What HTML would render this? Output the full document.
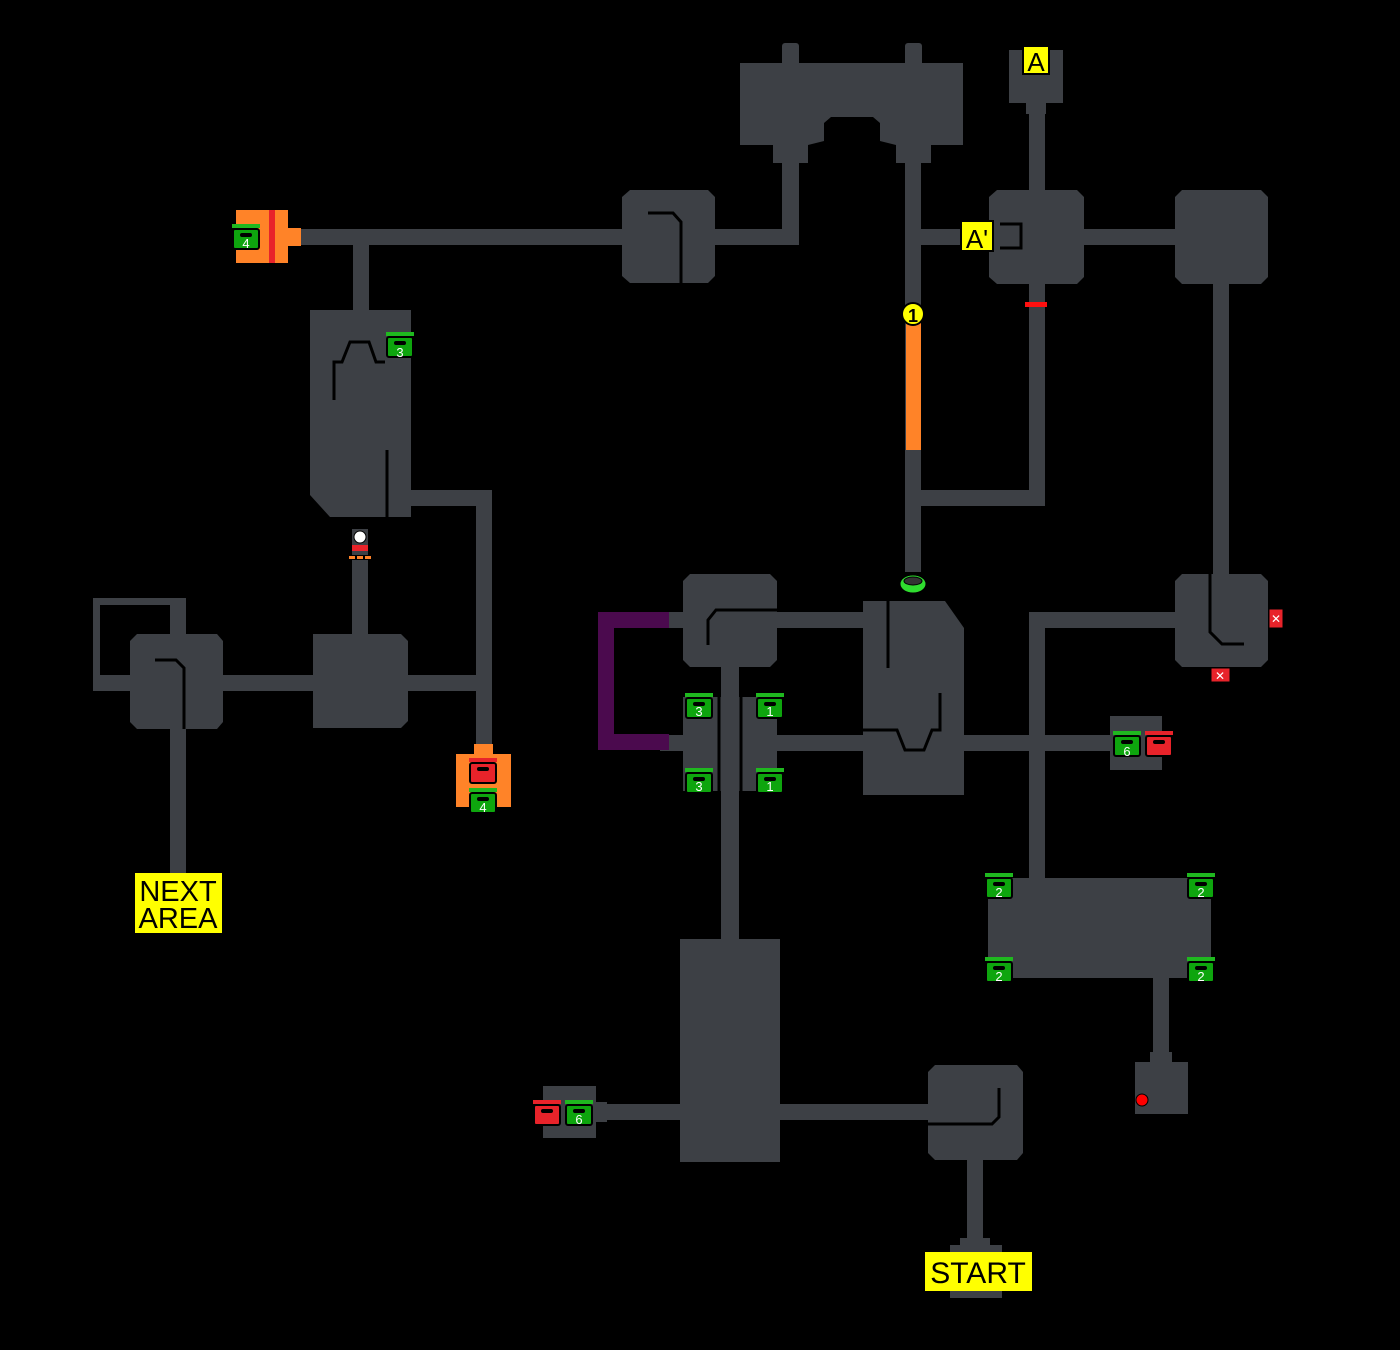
<!DOCTYPE html>
<html><head><meta charset="utf-8"><style>
html,body{margin:0;padding:0;background:#000;}
svg{display:block;}
text{font-family:"Liberation Sans",sans-serif;}
</style></head><body>
<svg width="1400" height="1350" viewBox="0 0 1400 1350" xmlns="http://www.w3.org/2000/svg">
<defs>
<g id="cg">
<rect x="0" y="0" width="28" height="4" fill="#1fb81f"/>
<rect x="1" y="5" width="26" height="20" rx="2" fill="#0ea50e" stroke="#000" stroke-width="2"/>
<rect x="8" y="9" width="12" height="4" rx="2" fill="#000"/>
</g>
<g id="cr">
<rect x="0" y="0" width="28" height="4" fill="#e8232a"/>
<rect x="1" y="5" width="26" height="20" rx="2" fill="#e8232a" stroke="#000" stroke-width="2"/>
<rect x="8" y="9" width="12" height="4" rx="2" fill="#000"/>
</g>
</defs>
<rect width="1400" height="1350" fill="#000"/>
<g fill="#3d4045">
<!-- top big room -->
<rect x="782" y="43" width="17" height="25" rx="3"/>
<rect x="905" y="43" width="17" height="25" rx="3"/>
<polygon points="740,63 963,63 963,145 931,145 931,163 896,163 896,145 880,141 880,123 873,117 831,117 824,123 824,141 808,145 808,163 773,163 773,145 740,145"/>
<rect x="782" y="160" width="17" height="85"/>
<rect x="905" y="160" width="16" height="412"/>
<!-- top-left corridors -->
<rect x="300" y="229" width="330" height="16"/>
<rect x="710" y="229" width="89" height="16"/>
<path d="M630,190 h78 l7,7 v79 l-7,7 h-78 l-8,-7 v-79 z"/>
<rect x="353" y="240" width="16" height="75"/>
<polygon points="310,310 411,310 411,517 330,517 310,495"/>
<rect x="405" y="490" width="87" height="16"/>
<rect x="476" y="490" width="16" height="260"/>
<rect x="352" y="560" width="16" height="80"/>
<rect x="352" y="530" width="16" height="25"/>
<path d="M313,634 h88 l7,7 v80 l-7,7 h-88 z"/>
<rect x="220" y="675" width="95" height="16"/>
<rect x="405" y="675" width="80" height="16"/>
<path d="M137,634 h80 l6,7 v81 l-6,7 h-80 l-7,-7 v-81 z"/>
<rect x="93" y="598" width="93" height="7"/>
<rect x="93" y="598" width="7" height="93"/>
<rect x="93" y="675" width="40" height="16"/>
<rect x="170" y="598" width="16" height="40"/>
<rect x="170" y="725" width="16" height="148"/>
<!-- A area -->
<rect x="1009" y="50" width="54" height="53"/>
<rect x="1026" y="100" width="20" height="14"/>
<rect x="1029" y="110" width="16" height="395"/>
<path d="M997,190 h80 l7,7 v80 l-7,7 h-80 l-8,-7 v-80 z"/>
<rect x="921" y="229" width="75" height="16"/>
<rect x="1080" y="229" width="100" height="16"/>
<path d="M1182,190 h79 l7,7 v80 l-7,7 h-79 l-7,-7 v-80 z"/>
<rect x="1213" y="280" width="16" height="300"/>
<rect x="913" y="490" width="132" height="16"/>
<!-- center -->
<path d="M690,574 h80 l7,7 v79 l-7,7 h-80 l-7,-7 v-79 z"/>
<rect x="660" y="612" width="30" height="16"/>
<rect x="770" y="612" width="100" height="16"/>
<polygon points="863,601 945,601 964,628 964,795 863,795"/>
<rect x="683" y="697" width="94" height="94"/>
<rect x="660" y="735" width="210" height="16"/>
<rect x="960" y="735" width="155" height="16"/>
<rect x="721" y="660" width="18" height="285"/>
<rect x="680" y="939" width="100" height="223"/>
<rect x="596" y="1104" width="90" height="16"/>
<rect x="775" y="1104" width="160" height="16"/>
<rect x="543" y="1086" width="53" height="52"/>
<rect x="594" y="1102" width="13" height="20"/>
<path d="M935,1065 h82 l6,7 v81 l-6,7 h-82 l-7,-7 v-81 z"/>
<rect x="967" y="1155" width="16" height="95"/>
<rect x="960" y="1238" width="30" height="12"/>
<rect x="950" y="1245" width="52" height="8"/>
<rect x="950" y="1290" width="52" height="8"/>
<!-- right -->
<rect x="1029" y="612" width="16" height="270"/>
<rect x="1029" y="612" width="150" height="16"/>
<path d="M1182,574 h79 l7,7 v79 l-7,7 h-79 l-7,-7 v-79 z"/>
<rect x="1110" y="716" width="52" height="54"/>
<rect x="988" y="878" width="223" height="100"/>
<rect x="1153" y="975" width="16" height="80"/>
<rect x="1150" y="1052" width="22" height="12"/>
<rect x="1135" y="1062" width="53" height="52"/>
</g>
<!-- inner black lines -->
<g stroke="#000" stroke-width="3" fill="none">
<polyline points="648,213 673,213 681,222 681,283"/>
<polyline points="334,400 334,362 342,362 350,342 369,342 376,362 385,362"/>
<line x1="387" y1="450" x2="387" y2="517"/>
<polyline points="155,660 176,660 184,668 184,729"/>
<polyline points="708,645 708,620 716,610 777,610"/>
<line x1="888" y1="601" x2="888" y2="668"/>
<polyline points="863,730 897,730 905,750 924,750 932,730 940,730 940,693"/>
<line x1="719" y1="697" x2="719" y2="791"/>
<line x1="741" y1="697" x2="741" y2="791"/>
<polyline points="1210,574 1210,632 1222,644 1244,644"/>
<polyline points="928,1124 992,1124 999,1117 999,1088"/>
<polyline points="1000,224 1021,224 1021,248 1000,248"/>
</g>
<!-- purple bracket -->
<path d="M598,612 h71 v16 h-55 v106 h55 v16 h-71 z" fill="#4b0a4e"/>
<!-- orange bar / 1 marker -->
<rect x="906" y="322" width="15" height="128" fill="#ff8328"/>
<circle cx="913" cy="314" r="11" fill="#ffff00" stroke="#000" stroke-width="2"/>
<text x="913" y="322" font-size="18" font-weight="bold" text-anchor="middle" fill="#000">1</text>
<!-- green ring -->
<ellipse cx="913" cy="584" rx="13" ry="9" fill="#2fdc2f" stroke="#000" stroke-width="1"/>
<ellipse cx="913" cy="581" rx="9" ry="4" fill="#333" stroke="#000"/>
<!-- red bar -->
<rect x="1025" y="302" width="22" height="5" fill="#ff1010"/>
<!-- orange room top left -->
<rect x="236" y="210" width="52" height="53" fill="#ff8328"/>
<rect x="287" y="228" width="14" height="18" fill="#ff8328"/>
<rect x="269" y="210" width="6" height="53" fill="#e8232a"/>
<use href="#cg" x="232" y="224"/><text x="246" y="248" font-size="13" fill="#fff" text-anchor="middle">4</text>
<use href="#cg" x="386" y="332"/><text x="400" y="357" font-size="13" fill="#fff" text-anchor="middle">3</text>
<!-- white ball switch -->
<rect x="352" y="529" width="16" height="26" fill="#3d4045"/>
<circle cx="360" cy="537" r="6" fill="#fff" stroke="#000"/>
<rect x="352" y="545" width="16" height="6" fill="#e8232a"/>
<rect x="349" y="556" width="6" height="3" fill="#ff8328"/><rect x="357" y="556" width="6" height="3" fill="#ff8328"/><rect x="365" y="556" width="6" height="3" fill="#ff8328"/>
<!-- orange bottom room -->
<rect x="474" y="744" width="19" height="12" fill="#ff8328"/>
<rect x="456" y="754" width="55" height="53" fill="#ff8328"/>
<use href="#cr" x="469" y="758"/>
<use href="#cg" x="469" y="788"/><text x="483" y="812" font-size="13" fill="#fff" text-anchor="middle">4</text>
<!-- center chests -->
<use href="#cg" x="685" y="693"/><text x="699" y="716" font-size="13" fill="#fff" text-anchor="middle">3</text>
<use href="#cg" x="756" y="693"/><text x="770" y="716" font-size="13" fill="#fff" text-anchor="middle">1</text>
<use href="#cg" x="685" y="768"/><text x="699" y="791" font-size="13" fill="#fff" text-anchor="middle">3</text>
<use href="#cg" x="756" y="768"/><text x="770" y="791" font-size="13" fill="#fff" text-anchor="middle">1</text>
<use href="#cg" x="1113" y="731"/><text x="1127" y="756" font-size="13" fill="#fff" text-anchor="middle">6</text>
<use href="#cr" x="1145" y="731"/>
<use href="#cr" x="533" y="1100"/>
<use href="#cg" x="565" y="1100"/><text x="579" y="1124" font-size="13" fill="#fff" text-anchor="middle">6</text>
<use href="#cg" x="985" y="873"/><text x="999" y="897" font-size="13" fill="#fff" text-anchor="middle">2</text>
<use href="#cg" x="1187" y="873"/><text x="1201" y="897" font-size="13" fill="#fff" text-anchor="middle">2</text>
<use href="#cg" x="985" y="957"/><text x="999" y="981" font-size="13" fill="#fff" text-anchor="middle">2</text>
<use href="#cg" x="1187" y="957"/><text x="1201" y="981" font-size="13" fill="#fff" text-anchor="middle">2</text>
<!-- red x blocks -->
<rect x="1269" y="609" width="14" height="19" fill="#e8232a" stroke="#000"/>
<text x="1276" y="623" font-size="12" fill="#fff" text-anchor="middle">✕</text>
<rect x="1211" y="668" width="19" height="14" fill="#e8232a" stroke="#000"/>
<text x="1220" y="680" font-size="12" fill="#fff" text-anchor="middle">✕</text>
<circle cx="1142" cy="1100" r="6" fill="#ff0000" stroke="#000"/>
<!-- labels -->
<rect x="1023" y="46" width="26" height="28" fill="#ffff00" stroke="#000" stroke-width="2"/>
<text x="1036" y="71" font-size="26" text-anchor="middle" fill="#000">A</text>
<rect x="961" y="221" width="32" height="30" fill="#ffff00" stroke="#000" stroke-width="2"/>
<text x="977" y="248" font-size="26" text-anchor="middle" fill="#000">A'</text>
<rect x="135" y="873" width="87" height="60" fill="#ffff00"/>
<text x="178" y="901" font-size="29" text-anchor="middle" fill="#000">NEXT</text>
<text x="178" y="928" font-size="29" text-anchor="middle" fill="#000">AREA</text>
<rect x="925" y="1252" width="107" height="39" fill="#ffff00"/>
<text x="978" y="1283" font-size="30" text-anchor="middle" fill="#000">START</text>
</svg>
</body></html>
